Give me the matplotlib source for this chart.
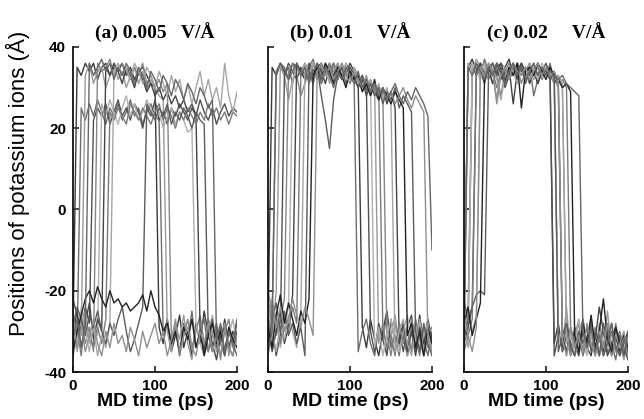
import matplotlib
matplotlib.use("Agg")
import matplotlib.pyplot as plt

# ---------------- data ----------------
time_ps = list(range(0, 201, 5))
x_ticks = [0, 100, 200]
y_ticks = [-40, -20, 0, 20, 40]

panel_titles = ["(a) 0.005   V/Å", "(b) 0.01     V/Å", "(c) 0.02     V/Å"]

# panel (a) 0.005 V/A
a1 = [-30, 35, 33, 36, 34, 36, 32, 35, 36, 33, 35, 34, 36, 33, 35, 32, 34, 35, 33, 31, 30, -29, -33, -27, -35, -31, -26, -34, -30, -36, -28, -33, -25, -31, -35, -29, -33, -27, -34, -30, -32]
a2 = [-25, -33, 25, 22, 26, 23, 27, 24, 21, 25, 23, 26, 22, 24, 27, 23, 25, 21, 24, 26, 23, 22, -31, -27, -34, -29, -36, -28, -32, -25, -34, -30, -27, -35, -31, -28, -33, -36, -29, -32, -27]
a3 = [-34, -28, -31, 33, 36, 31, 34, 35, 30, 33, 36, 32, 34, 30, 33, 35, 31, 34, 29, 32, 30, 28, 27, -30, -35, -28, -32, -26, -33, -37, -29, -31, -34, -27, -30, -35, -32, -28, -36, -31, -34]
a4 = [-22, -26, -30, -24, -28, 22, 25, 23, 26, 21, 24, 27, 23, 25, 22, 26, 24, 20, 25, 23, 27, 22, 24, 21, 25, 23, 26, 24, 22, 25, 23, 27, 24, 22, 25, 21, 24, 26, 23, 25, 24]
a5 = [-36, -31, -27, -33, -29, -35, 36, 34, 35, 37, 33, 35, 36, 34, 32, 35, 33, 36, 31, 33, 30, 32, 29, 31, -33, -29, -36, -31, -27, -34, -30, -26, -33, -35, -28, -31, -36, -30, -27, -34, -32]
a6 = [-27, -33, -24, -30, -35, -28, -31, 26, 23, 27, 24, 21, 25, 28, 23, 26, 22, 24, 27, 25, 22, 24, 20, 23, 25, 21, 24, 22, 19, 20, -28, -33, -36, -30, -26, -34, -29, -35, -31, -27, -33]
a7 = [-31, -25, -34, -28, -23, -32, -27, -30, 35, 33, 36, 34, 31, 35, 33, 30, 34, 32, 29, 31, 28, 30, 27, 29, 26, 28, 25, 27, 24, 26, 23, -30, -35, -28, -33, -37, -31, -29, -34, -36, -30]
a8 = [-33, -29, -36, -26, -31, -34, -29, -33, -27, 24, 22, 25, 23, 21, 26, 24, 22, 25, 23, 21, 24, 26, 22, 25, 23, 20, 24, 22, 25, 23, 21, 24, 22, 26, 23, 25, 22, 24, 21, 24, 23]
a9 = [-28, -35, -30, -25, -33, -29, -36, -31, -34, -28, 34, 36, 33, 35, 32, 36, 34, 31, 35, 33, 30, 34, 31, 28, 33, 29, 32, 27, 31, 26, 30, 34, 28, 32, 27, 30, 25, 36, 28, 24, 29]
a10 = [-29, -24, -27, -31, -26, -29, -25, -30, -33, -28, -31, -27, -24, -30, -35, -32, -28, -24, 26, 24, 22, 25, 23, 26, 21, 24, 22, 25, 23, 20, 24, 22, 21, -31, -27, -34, -29, -36, -30, -33, -28]
a11 = [-35, -30, -26, -22, -20, -23, -19, -22, -24, -20, -23, -22, -24, -23, -25, -24, -23, -21, -25, -20, -24, -26, -30, -28, -33, -30, -35, -29, -32, -27, -34, -30, -36, -31, -28, -33, -30, -35, -29, -32, -34]
a12 = [-26, -34, -29, -35, -31, -27, -33, -36, -30, -34, -28, -33, -31, -35, -29, -32, -36, -30, -34, -31, -28, -33, -30, -36, -32, -27, -35, -31, -29, -34, -36, -30, -33, -28, -35, -31, -37, -29, -34, -36, -31]
a13 = [-32, -27, -34, -29, 36, 33, 35, 37, 34, 36, 32, 35, 33, 36, 34, 31, 35, 33, 30, 34, 32, 29, 33, 31, 28, 32, 30, 27, 31, 29, 26, 30, 28, 25, 27, -32, -28, -35, -30, -33, -36]

# panel (b) 0.01 V/A
b1 = [-30, 35, 33, 36, 34, 32, 36, 35, 33, 36, 34, 31, 35, 36, 33, 34, 36, 32, 35, 33, 36, 34, 31, -29, -34, -27, -32, -36, -30, -25, -33, -35, -28, -31, -36, -29, -33, -26, -34, -31, -35]
b2 = [-22, -28, 34, 36, 33, 35, 31, 36, 34, 32, 35, 37, 33, 36, 34, 35, 32, 36, 33, 35, 34, 32, -35, -30, -27, -33, -36, -29, -32, -26, -34, -31, -36, -28, -33, -30, -35, -27, -32, -36, -30]
b3 = [-26, -33, -20, 35, 33, 27, 32, 35, 34, 36, 33, 31, 35, 34, 36, 32, 35, 33, 36, 34, 32, 35, 33, 30, 32, 29, 31, -33, -28, -35, -31, -26, -34, -30, -36, -29, -32, -27, -35, -31, -34]
b4 = [-34, -29, -36, -31, 33, 36, 34, 32, 35, 33, 36, 34, 35, 31, 34, 36, 33, 35, 32, 36, 34, 33, 31, 33, 30, -30, -35, -28, -32, -36, -27, -33, -30, -35, -29, -26, -34, -31, -36, -30, -33]
b5 = [-20, -25, -31, -27, -22, 34, 36, 33, 28, 31, 34, 36, 32, 35, 33, 36, 34, 32, 35, 33, 31, 34, 32, 29, 31, 28, 30, 27, 29, -31, -36, -28, -33, -30, -35, -27, -32, -36, -29, -34, -31]
b6 = [-36, -31, -27, -34, -29, -24, 32, 35, 33, 36, 34, 32, 36, 33, 35, 34, 31, 35, 33, 36, 32, 34, 30, 32, 29, 31, -34, -29, -36, -31, -27, -33, -35, -30, -26, -34, -32, -28, -35, -30, -33]
b7 = [-28, -35, -30, -25, -33, -29, -21, 36, 34, 32, 35, 33, 36, 34, 31, 35, 33, 36, 32, 34, 35, 33, 30, 32, 28, 31, 29, 27, 30, 26, 29, 25, -33, -28, -35, -30, -36, -29, -33, -27, -32]
b8 = [-31, -23, -27, -33, -26, -30, -24, -28, 33, 35, 32, 36, 34, 31, 35, 33, 36, 34, 32, 35, 33, 34, 31, 33, 30, 32, 29, 30, -29, -34, -31, -36, -28, -33, -30, -35, -27, -32, -36, -31, -29]
b9 = [-24, -30, -35, -28, -32, -26, -30, -34, -27, 35, 33, 36, 34, 32, 35, 31, 34, 36, 33, 35, 32, 34, 31, 33, 29, 32, 28, 31, 27, 30, 26, -35, -30, -27, -33, -36, -29, -34, -31, -28, -35]
b10 = [-33, -27, -23, -30, -25, -31, -28, -33, -29, -36, 34, 32, 35, 28, 22, 15, 27, 33, 35, 31, 34, 32, 30, 33, 29, 31, 28, 30, 26, 29, 27, 30, 25, 28, 26, 24, -30, -35, -28, -33, -36]
b11 = [-29, -34, -26, -21, -28, -23, -27, -31, -25, -28, -22, 33, 35, 32, 36, 34, 31, 35, 33, 30, 34, 32, 33, 29, 31, 28, 32, 27, 30, 28, 26, 29, 27, 25, -31, -28, -34, -30, -36, -29, -33]
b12 = [-26, -22, -29, -24, -30, -27, -22, -26, -29, -24, -27, -31, 34, 36, 33, 35, 32, 34, 36, 33, 31, 34, 32, 30, 33, 29, 31, 28, 30, 27, 29, 26, 28, 30, 27, 25, 28, 26, 24, -32, -35]
b13 = [-35, -30, 33, 36, 35, 32, 34, 36, 33, 35, 31, 34, 36, 32, 35, 33, 30, 34, 32, 35, 33, 31, 34, 30, 32, 29, 31, 28, 30, 27, 29, 31, 28, 26, 29, 27, 30, 28, 26, 23, -10]

# panel (c) 0.02 V/A
c1 = [-30, 35, 37, 34, 36, 33, 35, 36, 34, 32, 35, 37, 33, 36, 34, 35, 31, 34, 36, 33, 35, 32, -33, -28, -35, -31, -36, -29, -33, -27, -34, -36, -30, -32, -35, -29, -34, -31, -36, -33, -30]
c2 = [-25, 34, 36, 35, 33, 37, 34, 31, 35, 36, 33, 34, 36, 32, 35, 33, 36, 28, 32, 35, 33, 36, 31, -30, -35, -28, -33, -36, -31, -27, -34, -30, -36, -32, -29, -35, -33, -37, -31, -34, -36]
c3 = [-34, 36, 34, 37, 35, 32, 36, 34, 27, 36, 35, 32, 34, 36, 33, 35, 34, 32, 36, 33, 35, 34, 32, 30, -34, -24, -36, -31, -27, -35, -33, -30, -36, -28, -34, -25, -35, -29, -33, -37, -32]
c4 = [-22, -28, 33, 36, 34, 31, 35, 33, 36, 34, 30, 33, 35, 32, 36, 34, 33, 35, 31, 34, 36, 33, -36, -31, -34, -28, -33, -36, -30, -35, -32, -27, -34, -30, -36, -33, -28, -35, -31, -34, -37]
c5 = [-31, -26, 35, 33, 36, 34, 32, 35, 33, 28, 34, 36, 33, 35, 31, 34, 36, 33, 35, 32, 34, 33, 31, 33, 30, -30, -35, -32, -28, -36, -31, -34, -29, -36, -33, -30, -35, -28, -34, -31, -33]
c6 = [-27, -33, 36, 34, 32, 35, 33, 36, 34, 35, 32, 34, 36, 33, 35, 34, 32, 35, 33, 36, 34, 32, 33, -33, -29, -36, -31, -34, -27, -33, -36, -30, -35, -32, -28, -34, -36, -30, -33, -35, -31]
c7 = [-33, -29, -24, 34, 36, 33, 35, 31, 34, 36, 33, 35, 26, 34, 36, 33, 35, 34, 31, 34, 33, 35, 32, 31, -31, -35, -29, -33, -36, -30, -34, -28, -32, -24, -30, -36, -33, -29, -35, -32, -34]
c8 = [-35, -31, -27, 33, 35, 36, 33, 34, 30, 33, 35, 32, 34, 36, 33, 35, 32, 34, 36, 33, 34, 32, 33, 31, 32, 30, -29, -34, -30, -36, -32, -27, -35, -31, -34, -29, -36, -32, -30, -35, -33]
c9 = [-29, -34, -30, -26, 34, 36, 33, 35, 32, 27, 33, 35, 34, 31, 35, 33, 36, 34, 32, 35, 33, 34, 32, 33, 31, -33, -30, -36, -33, -28, -35, -31, -34, -36, -29, -33, -35, -30, -34, -32, -36]
c10 = [-32, -27, -24, -21, -20, -21, 34, 36, 33, 35, 32, 34, 36, 33, 35, 31, 34, 36, 33, 35, 34, 32, 34, -35, -31, -28, -34, -36, -30, -33, -29, -35, -31, -36, -28, -33, -30, -35, -32, -36, -30]
c11 = [-28, -24, -31, -27, -23, 32, 35, 33, 36, 34, 31, 35, 33, 36, 25, 34, 35, 33, 36, 34, 32, 35, 33, 32, 30, 31, 29, -31, -35, -28, -33, -26, -34, -30, -22, -32, -35, -29, -33, -31, -34]
c12 = [-26, -31, -35, -29, 35, 33, 36, 34, 26, 33, 35, 32, 36, 34, 33, 35, 32, 34, 36, 33, 35, 33, 34, 32, -32, -36, -29, -34, -31, -35, -28, -33, -36, -30, -34, -28, -31, -35, -33, -30, -36]
c13 = [-33, 35, 33, 36, 34, 32, 35, 33, 36, 34, 31, 34, 36, 33, 35, 32, 34, 36, 33, 35, 33, 34, 33, 32, 33, 31, 30, 29, 28, -30, -34, -29, -35, -31, -36, -33, -28, -34, -36, -32, -35]

panel_a_series = [a1, a2, a3, a4, a5, a6, a7, a8, a9, a10, a11, a12, a13]
panel_b_series = [b1, b2, b3, b4, b5, b6, b7, b8, b9, b10, b11, b12, b13]
panel_c_series = [c1, c2, c3, c4, c5, c6, c7, c8, c9, c10, c11, c12, c13]

# ---------------- style ----------------
grays = ["#3a3a3a", "#6e6e6e", "#9a9a9a", "#505050", "#858585", "#b0b0b0",
         "#444444", "#7a7a7a", "#a5a5a5", "#5c5c5c", "#222222", "#909090", "#666666"]

fig = plt.figure(figsize=(6.44, 4.19), dpi=100)
W, H = 644, 419
lefts = [73, 268, 464]
ax_w = 164
top_px, bot_px = 47, 372

tick_font = dict(family="Liberation Sans", weight="bold", size=11)

for i, (series, title) in enumerate(zip([panel_a_series, panel_b_series, panel_c_series], panel_titles)):
    ax = fig.add_axes([lefts[i] / W, 1 - bot_px / H, ax_w / W, (bot_px - top_px) / H])
    for j, s in enumerate(series):
        ax.plot(time_ps, s, color=grays[j % len(grays)], lw=1.0)
    ax.set_xlim(0, 200)
    ax.set_ylim(-40, 40)
    ax.set_xticks(x_ticks)
    ax.set_yticks(y_ticks)
    for sp in ["top", "right"]:
        ax.spines[sp].set_visible(False)
    for sp in ["left", "bottom"]:
        ax.spines[sp].set_linewidth(1.3)
        ax.spines[sp].set_color("#111111")
    ax.tick_params(direction="in", length=4, width=1.1, color="#111111", pad=5)
    ax.set_xticklabels([str(v) for v in x_ticks], fontdict=tick_font)
    if i == 0:
        ax.set_yticklabels([str(v) for v in y_ticks], fontdict=tick_font)
    else:
        ax.set_yticklabels([])
    ax.set_xlabel("MD time (ps)", family="Liberation Sans", weight="bold", size=14, labelpad=0)
    ax.set_title(title, family="Liberation Serif", weight="bold", size=14, pad=6)

fig.text(18 / W, 1 - 183 / H, "Positions of potassium ions (Å)", rotation=90,
         ha="center", va="center", family="Liberation Sans", size=16)

fig.savefig("out.png", dpi=100)
